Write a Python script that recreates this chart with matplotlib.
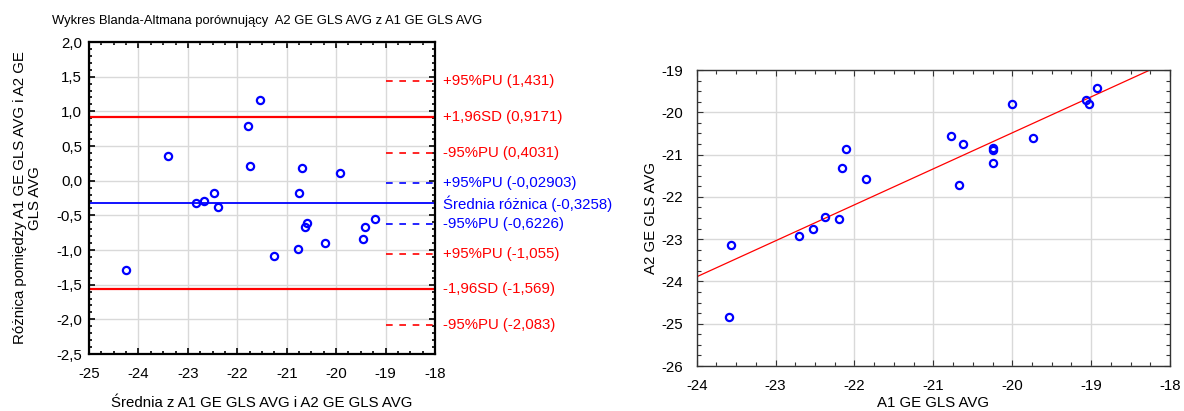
import numpy as np
import matplotlib
matplotlib.use("Agg")
import matplotlib.pyplot as plt
from matplotlib.ticker import MultipleLocator, FuncFormatter

plt.rcParams['font.family'] = ['Liberation Sans', 'DejaVu Sans']
plt.rcParams['axes.unicode_minus'] = False

# ---- Bland-Altman data (left) ----
ba_mean = [-24.25, -23.41, -22.84, -22.67, -22.48, -22.39, -21.79, -21.75, -21.55, -21.26,
           -20.78, -20.75, -20.70, -20.62, -20.58, -20.22, -19.93, -19.45, -19.41, -19.21]
ba_diff = [-1.287, 0.352, -0.321, -0.293, -0.173, -0.379, 0.788, 0.207, 1.167, -1.08,
           -0.989, -0.173, 0.178, -0.672, -0.614, -0.902, 0.115, -0.845, -0.672, -0.552]

mean_diff = -0.3258
sd_upper = 0.9171
sd_lower = -1.569
ci_red = [1.431, 0.4031, -1.055, -2.083]
ci_blue = [-0.02903, -0.6226]

ref_labels = [
    (1.431, "+95%PU (1,431)", "red"),
    (0.9171, "+1,96SD (0,9171)", "red"),
    (0.4031, "-95%PU (0,4031)", "red"),
    (-0.02903, "+95%PU (-0,02903)", "blue"),
    (-0.3258, "Średnia różnica (-0,3258)", "blue"),
    (-0.6226, "-95%PU (-0,6226)", "blue"),
    (-1.055, "+95%PU (-1,055)", "red"),
    (-1.569, "-1,96SD (-1,569)", "red"),
    (-2.083, "-95%PU (-2,083)", "red"),
]

# ---- Scatter data (right) ----
a1 = [-23.59, -23.57, -22.70, -22.52, -22.37, -22.19, -22.16, -22.11, -21.86, -20.78,
      -20.68, -20.63, -20.25, -20.25, -20.25, -20.00, -19.74, -19.06, -19.03, -18.92]
a2 = [-24.83, -23.14, -22.93, -22.76, -22.48, -22.52, -21.31, -20.88, -21.58, -20.55,
      -21.73, -20.74, -20.84, -20.89, -21.21, -19.80, -20.60, -19.70, -19.80, -19.42]

# regression line as drawn in the reference
reg_slope = 0.851
reg_intercept = -3.466
reg_x = [-24, -18]

fig = plt.figure(figsize=(11.84, 4.11), dpi=100)

grid_c = '#d9d9d9'
fs = 10.8

# ---------- left ----------
ax = fig.add_axes([89/1184, 1-354/411, 346/1184, 312/411])
ax.set_xlim(-25, -18)
ax.set_ylim(-2.5, 2.0)
ax.xaxis.set_major_locator(MultipleLocator(1))
ax.xaxis.set_minor_locator(MultipleLocator(0.25))
ax.yaxis.set_major_locator(MultipleLocator(0.5))
ax.yaxis.set_minor_locator(MultipleLocator(0.1))
ax.yaxis.set_major_formatter(FuncFormatter(lambda v, p: f"{v:.1f}".replace('.', ',')))
ax.xaxis.set_major_formatter(FuncFormatter(lambda v, p: f"{v:.0f}"))
ax.grid(True, which='major', color=grid_c, lw=1)
ax.set_axisbelow(True)
for s in ax.spines.values():
    s.set_linewidth(1.6)
ax.tick_params(which='both', direction='in', top=True, right=True, labelsize=fs, width=1.2)
ax.tick_params(which='major', length=4)
ax.tick_params(which='minor', length=2)
ax.tick_params(axis='y', which='major', pad=5)
ax.tick_params(axis='x', which='major', pad=9)

ax.axhline(sd_upper, color='red', lw=1.6)
ax.axhline(sd_lower, color='red', lw=1.6)
ax.axhline(mean_diff, color='blue', lw=1.3)
for v in ci_red:
    ax.plot([-19, -18], [v, v], color='red', lw=1.2, ls=(0, (4, 4)))
for v in ci_blue:
    ax.plot([-19, -18], [v, v], color='blue', lw=1.2, ls=(0, (4, 4)))
ax.plot(ba_mean, ba_diff, 'o', mfc='none', mec='blue', mew=1.6, ms=5.2)

tr = ax.get_yaxis_transform()
for v, txt, c in ref_labels:
    ax.text(1.022, v, txt, transform=tr, color=c, fontsize=fs, va='center', ha='left', clip_on=False)

ax.set_xlabel("Średnia z A1 GE GLS AVG i A2 GE GLS AVG", fontsize=fs)
ax.xaxis.set_label_coords(0.5, -0.135)
ax.set_ylabel("Różnica pomiędzy A1 GE GLS AVG i A2 GE\nGLS AVG", fontsize=fs, linespacing=1.15)
ax.yaxis.set_label_coords(-0.135, 0.5)

fig.text(52/1184, 1-21/411, "Wykres Blanda-Altmana porównujący  A2 GE GLS AVG z A1 GE GLS AVG",
         fontsize=9.4, va='center', ha='left')

# ---------- right ----------
ax2 = fig.add_axes([696.7/1184, 1-366/411, 473.3/1184, 296/411])
ax2.set_xlim(-24, -18)
ax2.set_ylim(-26, -19)
ax2.xaxis.set_major_locator(MultipleLocator(1))
ax2.xaxis.set_minor_locator(MultipleLocator(0.25))
ax2.yaxis.set_major_locator(MultipleLocator(1))
ax2.yaxis.set_minor_locator(MultipleLocator(0.25))
ax2.xaxis.set_major_formatter(FuncFormatter(lambda v, p: f"{v:.0f}"))
ax2.yaxis.set_major_formatter(FuncFormatter(lambda v, p: f"{v:.0f}"))
ax2.grid(True, which='major', color=grid_c, lw=1)
ax2.set_axisbelow(True)
for s in ax2.spines.values():
    s.set_linewidth(1.0)
    s.set_color('#333333')
ax2.tick_params(which='both', direction='in', top=True, right=True, labelsize=fs, width=0.8, color='#333333')
ax2.tick_params(which='major', length=4)
ax2.tick_params(which='minor', length=3)
ax2.tick_params(axis='y', which='major', pad=10)
ax2.tick_params(axis='x', which='major', pad=9)

xl = np.array(reg_x, dtype=float)
ax2.plot(xl, reg_slope*xl + reg_intercept, color='red', lw=0.9)
ax2.plot(a1, a2, 'o', mfc='none', mec='blue', mew=1.6, ms=5.2)
ax2.set_xlabel("A1 GE GLS AVG", fontsize=fs)
ax2.xaxis.set_label_coords(0.5, -0.1)
ax2.set_ylabel("A2 GE GLS AVG", fontsize=fs)
ax2.yaxis.set_label_coords(-0.082, 0.5)

fig.savefig("out.png", dpi=100)
